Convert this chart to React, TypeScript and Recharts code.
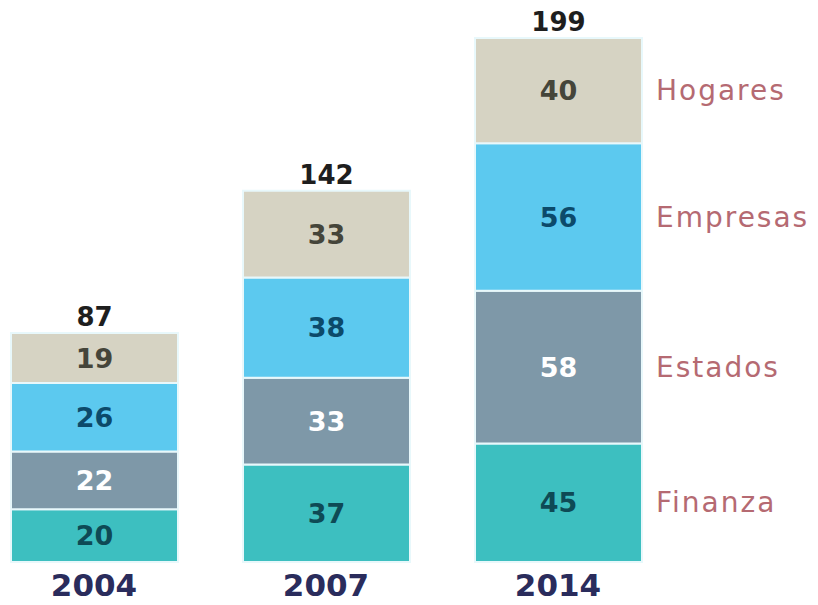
import { BarChart, Bar, XAxis, YAxis, LabelList } from "recharts";

const years = ["2004", "2007", "2014"];
const finanza = [20, 37, 45];
const estados = [22, 33, 58];
const empresas = [26, 38, 56];
const hogares = [19, 33, 40];
const totals = [87, 142, 199];

const data = years.map((year, i) => ({
  year,
  finanza: finanza[i],
  estados: estados[i],
  empresas: empresas[i],
  hogares: hogares[i],
  total: totals[i],
}));

const series = [
  { key: "finanza", name: "Finanza", fill: "#3dbfc0", text: "#0e4a55" },
  { key: "estados", name: "Estados", fill: "#7e98a8", text: "#ffffff" },
  { key: "empresas", name: "Empresas", fill: "#5cc9ef", text: "#0c4a6a" },
  { key: "hogares", name: "Hogares", fill: "#d6d3c3", text: "#45453a" },
];

const FONT = "'DejaVu Sans', sans-serif";

const sideLabel = (name: string) => (props: any) => {
  const { x, y, width, height, index } = props;
  if (index !== years.length - 1) return null;
  return (
    <text
      x={Number(x) + Number(width) + 14}
      y={Number(y) + Number(height) / 2}
      dominantBaseline="central"
      fill="#b56a72"
      fontSize={28}
      letterSpacing={2}
      fontFamily={FONT}
    >
      {name}
    </text>
  );
};

const totalLabel = (props: any) => {
  const { x, y, width, index } = props;
  return (
    <text
      x={Number(x) + Number(width) / 2}
      y={Number(y) - 16}
      textAnchor="middle"
      dominantBaseline="central"
      fill="#1e1e1e"
      fontSize={26}
      fontWeight="bold"
      fontFamily={FONT}
    >
      {totals[index]}
    </text>
  );
};

export default function App() {
  return (
    <div style={{ position: "absolute", left: 0, top: 0, background: "#fff" }}>
      <BarChart
        width={818}
        height={605}
        data={data}
        margin={{ top: 38, right: 144, bottom: 0, left: -22 }}
        barSize={167}
      >
        <XAxis
          dataKey="year"
          axisLine={false}
          tickLine={false}
          height={43}
          tick={{ fill: "#2a2c5c", fontSize: 31, fontWeight: "bold", fontFamily: FONT }}
          tickMargin={6}
        />
        <YAxis hide domain={[0, 199]} />
        {series.map((s, si) => (
          <Bar
            key={s.key}
            dataKey={s.key}
            name={s.name}
            stackId="a"
            fill={s.fill}
            stroke="#e8f8fb"
            strokeWidth={2}
            isAnimationActive={false}
          >
            <LabelList
              dataKey={s.key}
              position="center"
              fill={s.text}
              fontSize={27}
              fontWeight="bold"
              fontFamily={FONT}
            />
            <LabelList dataKey={s.key} content={sideLabel(s.name)} />
            {si === series.length - 1 && <LabelList dataKey="total" content={totalLabel} />}
          </Bar>
        ))}
      </BarChart>
    </div>
  );
}
